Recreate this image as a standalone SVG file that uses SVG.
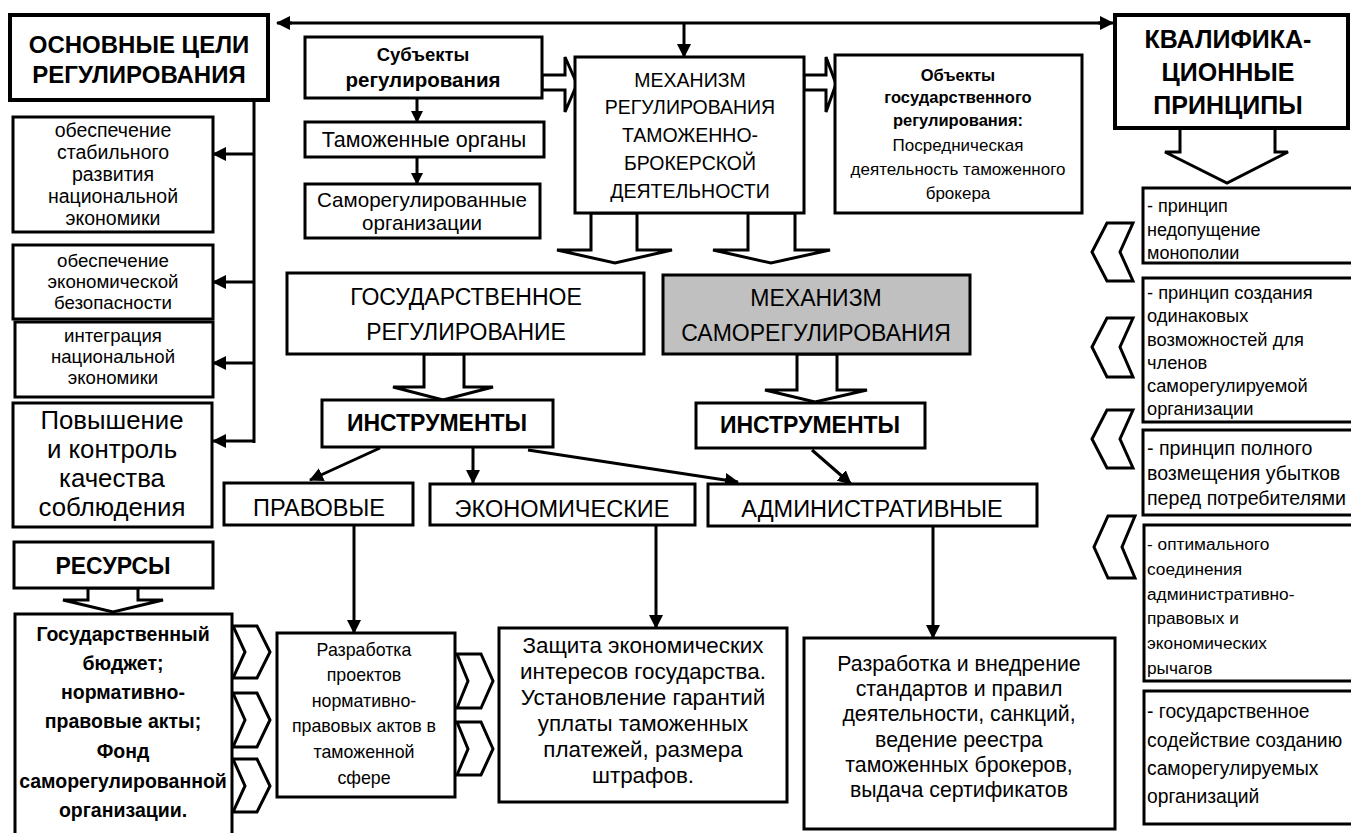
<svg xmlns="http://www.w3.org/2000/svg" width="1351" height="833" viewBox="0 0 1351 833">
<style>
.bx{fill:#fff;stroke:#000;stroke-width:3}
.bx4{fill:#fff;stroke:#000;stroke-width:4}
.gr{fill:#c0c0c0;stroke:#000;stroke-width:3}
.ba{fill:#fff;stroke:#000;stroke-width:3;stroke-linejoin:miter}
.ln{fill:none;stroke:#000;stroke-width:3}
text{font-family:"Liberation Sans","Noto Sans",sans-serif;fill:#000}
.c{text-anchor:middle}
.bd{font-weight:bold}
</style>
<defs>
<marker id="ah" markerUnits="userSpaceOnUse" markerWidth="14" markerHeight="14" refX="13" refY="7" orient="auto">
<path d="M0,0 L14,7 L0,14 z" fill="#000"/>
</marker>
<marker id="ahs" markerUnits="userSpaceOnUse" markerWidth="12" markerHeight="12" refX="11" refY="6" orient="auto">
<path d="M0,0 L12,6 L0,12 z" fill="#000"/>
</marker>
</defs>
<rect width="1351" height="833" fill="#fff"/>

<g id="connectors">
<line class="ln" x1="290" y1="23" x2="1100" y2="23"/>
<line class="ln" x1="292" y1="23" x2="277" y2="23" marker-end="url(#ah)"/>
<line class="ln" x1="1098" y1="23" x2="1113" y2="23" marker-end="url(#ah)"/>
<line class="ln" x1="684" y1="23" x2="684" y2="57" marker-end="url(#ah)"/>
<line class="ln" x1="254" y1="100" x2="254" y2="443"/>
<line class="ln" x1="254" y1="154" x2="213" y2="154" marker-end="url(#ah)"/>
<line class="ln" x1="254" y1="282" x2="213" y2="282" marker-end="url(#ah)"/>
<line class="ln" x1="254" y1="363" x2="213" y2="363" marker-end="url(#ah)"/>
<line class="ln" x1="254" y1="441" x2="213" y2="441" marker-end="url(#ah)"/>
<line class="ln" x1="417" y1="98" x2="417" y2="122" marker-end="url(#ahs)"/>
<line class="ln" x1="417" y1="157" x2="417" y2="184" marker-end="url(#ahs)"/>
<line class="ln" x1="380" y1="448" x2="310" y2="480" marker-end="url(#ah)"/>
<line class="ln" x1="473" y1="447" x2="473" y2="483" marker-end="url(#ah)"/>
<line class="ln" x1="528" y1="450" x2="738" y2="482" marker-end="url(#ah)"/>
<line class="ln" x1="812" y1="450" x2="851" y2="484" marker-end="url(#ah)"/>
<line class="ln" x1="354" y1="526" x2="354" y2="633" marker-end="url(#ah)"/>
<line class="ln" x1="656" y1="526" x2="656" y2="628" marker-end="url(#ah)"/>
<line class="ln" x1="933" y1="527" x2="933" y2="638" marker-end="url(#ah)"/>
<polygon class="ba" points="542,75 565,75 565,57 577,84 565,112 565,90 542,90"/>
<polygon class="ba" points="804,75 826,75 826,57 836,84 826,112 826,90 804,90"/>
<polygon class="ba" points="591,213 637,213 637,250 672,250 615,263 557,250 591,250"/>
<polygon class="ba" points="748,213 795,213 795,250 830,250 771,263 713,250 748,250"/>
<polygon class="ba" points="1180,128 1275,128 1275,152 1288,152 1227,183 1165,152 1180,152"/>
<polygon class="ba" points="424,354 464,354 464,387 493,387 443,400 393,387 424,387"/>
<polygon class="ba" points="797,354 837,354 837,390 867,390 815,402 765,390 797,390"/>
<polygon class="ba" points="88,588 138,588 138,600 163,600 113,612 63,600 88,600"/>
<polygon class="ba" points="1107,223 1133,223 1120,252 1133,281 1107,281 1092,252"/>
<polygon class="ba" points="1107,318 1133,318 1120,347 1133,377 1107,377 1092,347"/>
<polygon class="ba" points="1107,410 1133,410 1120,439 1133,468 1107,468 1092,439"/>
<polygon class="ba" points="1108,516 1135,516 1122,547 1135,578 1108,578 1094,547"/>
<polygon class="ba" points="233,626 257,626 270,652 257,678 233,678 245,652"/>
<polygon class="ba" points="233,693 257,693 270,720 257,747 233,747 245,720"/>
<polygon class="ba" points="233,759 257,759 270,786 257,812 233,812 245,786"/>
<polygon class="ba" points="457,654 481,654 493,681 481,708 457,708 468,681"/>
<polygon class="ba" points="457,722 481,722 493,749 481,775 457,775 468,749"/>
</g>

<g id="goals">
<rect class="bx4" x="10" y="15" width="258" height="85"/>
<text class="c bd" x="139" y="53" font-size="24">ОСНОВНЫЕ ЦЕЛИ</text>
<text class="c bd" x="139" y="83" font-size="24">РЕГУЛИРОВАНИЯ</text>
</g>
<g id="goal1">
<rect class="bx" x="13" y="117" width="200" height="115"/>
<text class="c" x="113" font-size="19.5"><tspan x="113" y="137">обеспечение</tspan><tspan x="113" y="159">стабильного</tspan><tspan x="113" y="181">развития</tspan><tspan x="113" y="203">национальной</tspan><tspan x="113" y="225">экономики</tspan></text>
</g>
<g id="goal2">
<rect class="bx" x="13" y="245" width="200" height="74"/>
<text class="c" x="113" font-size="18.7"><tspan x="113" y="267">обеспечение</tspan><tspan x="113" y="288">экономической</tspan><tspan x="113" y="309">безопасности</tspan></text>
</g>
<g id="goal3">
<rect class="bx" x="15" y="322" width="198" height="75"/>
<text class="c" x="113" font-size="18.6"><tspan x="113" y="342">интеграция</tspan><tspan x="113" y="363">национальной</tspan><tspan x="113" y="384">экономики</tspan></text>
</g>
<g id="goal4">
<rect class="bx" x="13" y="403" width="199" height="124"/>
<text class="c" x="112" font-size="25.8"><tspan x="112" y="429">Повышение</tspan><tspan x="112" y="458">и контроль</tspan><tspan x="112" y="487">качества</tspan><tspan x="112" y="516">соблюдения</tspan></text>
</g>

<g id="subjects">
<rect class="bx" x="305" y="37" width="237" height="61"/>
<text class="c bd" x="423" y="61" font-size="18.5">Субъекты</text>
<text class="c bd" x="423" y="87" font-size="20.5">регулирования</text>
</g>
<g id="customs">
<rect class="bx" x="305" y="122" width="239" height="35"/>
<text class="c" x="424" y="147" font-size="21.5">Таможенные органы</text>
</g>
<g id="sro">
<rect class="bx" x="305" y="184" width="235" height="54"/>
<text class="c" x="422" y="207" font-size="20.6">Саморегулированные</text>
<text class="c" x="422" y="230" font-size="20.6">организации</text>
</g>

<g id="mechanism">
<rect class="bx" x="575" y="57" width="229" height="156"/>
<text class="c" x="690" font-size="19.5"><tspan x="690" y="87">МЕХАНИЗМ</tspan><tspan x="690" y="114">РЕГУЛИРОВАНИЯ</tspan><tspan x="690" y="142">ТАМОЖЕННО-</tspan><tspan x="690" y="170">БРОКЕРСКОЙ</tspan><tspan x="690" y="198">ДЕЯТЕЛЬНОСТИ</tspan></text>
</g>

<g id="objects">
<rect class="bx" x="835" y="55" width="247" height="158"/>
<text class="c bd" x="958" font-size="16.5"><tspan x="958" y="81">Объекты</tspan><tspan x="958" y="103">государственного</tspan><tspan x="958" y="126">регулирования:</tspan></text>
<text class="c" x="958" font-size="17"><tspan x="958" y="151">Посредническая</tspan><tspan x="958" y="175">деятельность таможенного</tspan><tspan x="958" y="199">брокера</tspan></text>
</g>

<g id="qual">
<rect class="bx4" x="1115" y="15" width="233" height="113"/>
<text class="c bd" x="1228" font-size="25"><tspan x="1228" y="48">КВАЛИФИКА-</tspan><tspan x="1228" y="81">ЦИОННЫЕ</tspan><tspan x="1228" y="114">ПРИНЦИПЫ</tspan></text>
</g>

<g id="p1">
<rect class="bx" x="1143" y="188" width="215" height="75"/>
<text x="1147" font-size="18"><tspan x="1147" y="212">- принцип</tspan><tspan x="1147" y="236">недопущение</tspan><tspan x="1147" y="259">монополии</tspan></text>
</g>
<g id="p2">
<rect class="bx" x="1143" y="278" width="215" height="144"/>
<text x="1147" font-size="18.3"><tspan x="1147" y="299">- принцип создания</tspan><tspan x="1147" y="322">одинаковых</tspan><tspan x="1147" y="346">возможностей для</tspan><tspan x="1147" y="369">членов</tspan><tspan x="1147" y="392">саморегулируемой</tspan><tspan x="1147" y="415">организации</tspan></text>
</g>
<g id="p3">
<rect class="bx" x="1143" y="430" width="215" height="85"/>
<text x="1147" font-size="19.6"><tspan x="1147" y="455">- принцип полного</tspan><tspan x="1147" y="480">возмещения убытков</tspan><tspan x="1147" y="505">перед потребителями</tspan></text>
</g>
<g id="p4">
<rect class="bx" x="1144" y="525" width="214" height="156"/>
<text x="1147" font-size="17.3"><tspan x="1147" y="550">- оптимального</tspan><tspan x="1147" y="575">соединения</tspan><tspan x="1147" y="600">административно-</tspan><tspan x="1147" y="624">правовых и</tspan><tspan x="1147" y="649">экономических</tspan><tspan x="1147" y="674">рычагов</tspan></text>
</g>
<g id="p5">
<rect class="bx" x="1144" y="691" width="214" height="133"/>
<text x="1147" font-size="19.3"><tspan x="1147" y="718">- государственное</tspan><tspan x="1147" y="747">содействие созданию</tspan><tspan x="1147" y="775">саморегулируемых</tspan><tspan x="1147" y="803">организаций</tspan></text>
</g>

<g id="state">
<rect class="bx" x="287" y="273" width="357" height="81"/>
<text class="c" x="466" y="305" font-size="23">ГОСУДАРСТВЕННОЕ</text>
<text class="c" x="466" y="340" font-size="23">РЕГУЛИРОВАНИЕ</text>
</g>
<g id="selfreg">
<rect class="gr" x="663" y="275" width="307" height="79"/>
<text class="c" x="816" y="306" font-size="23">МЕХАНИЗМ</text>
<text class="c" x="816" y="341" font-size="23">САМОРЕГУЛИРОВАНИЯ</text>
</g>

<g id="tools1">
<rect class="bx" x="322" y="400" width="231" height="47"/>
<text class="c bd" x="437" y="431" font-size="23">ИНСТРУМЕНТЫ</text>
</g>
<g id="tools2">
<rect class="bx" x="696" y="403" width="229" height="45"/>
<text class="c bd" x="810" y="433" font-size="23">ИНСТРУМЕНТЫ</text>
</g>

<g id="legal">
<rect class="bx" x="224" y="483" width="189" height="42"/>
<text class="c" x="319" y="516" font-size="23.5">ПРАВОВЫЕ</text>
</g>
<g id="economic">
<rect class="bx" x="430" y="484" width="265" height="41"/>
<text class="c" x="562" y="517" font-size="23.5">ЭКОНОМИЧЕСКИЕ</text>
</g>
<g id="admin">
<rect class="bx" x="708" y="484" width="329" height="42"/>
<text class="c" x="872" y="517" font-size="23.5">АДМИНИСТРАТИВНЫЕ</text>
</g>

<g id="resources">
<rect class="bx" x="14" y="542" width="199" height="46"/>
<text class="c bd" x="113" y="574" font-size="23">РЕСУРСЫ</text>
</g>
<g id="budget">
<rect class="bx" x="15" y="614" width="217" height="230"/>
<text class="c bd" x="123" font-size="19.5"><tspan x="123" y="641">Государственный</tspan><tspan x="123" y="670">бюджет;</tspan><tspan x="123" y="699">нормативно-</tspan><tspan x="123" y="728">правовые акты;</tspan><tspan x="123" y="758">Фонд</tspan><tspan x="123" y="788">саморегулированной</tspan><tspan x="123" y="817">организации.</tspan></text>
</g>

<g id="drafting">
<rect class="bx" x="277" y="633" width="178" height="164"/>
<text class="c" x="364" font-size="17.8"><tspan x="364" y="656">Разработка</tspan><tspan x="364" y="681">проектов</tspan><tspan x="364" y="707">нормативно-</tspan><tspan x="364" y="732">правовых актов в</tspan><tspan x="364" y="758">таможенной</tspan><tspan x="364" y="784">сфере</tspan></text>
</g>
<g id="protection">
<rect class="bx" x="499" y="628" width="288" height="174"/>
<text class="c" x="643" font-size="22.4"><tspan x="643" y="653">Защита экономических</tspan><tspan x="643" y="679">интересов государства.</tspan><tspan x="643" y="705">Установление гарантий</tspan><tspan x="643" y="731">уплаты таможенных</tspan><tspan x="643" y="757">платежей, размера</tspan><tspan x="643" y="783">штрафов.</tspan></text>
</g>
<g id="standards">
<rect class="bx" x="804" y="638" width="311" height="191"/>
<text class="c" x="959" font-size="21.3"><tspan x="959" y="671">Разработка и внедрение</tspan><tspan x="959" y="696">стандартов и правил</tspan><tspan x="959" y="721">деятельности, санкций,</tspan><tspan x="959" y="747">ведение реестра</tspan><tspan x="959" y="772">таможенных брокеров,</tspan><tspan x="959" y="797">выдача сертификатов</tspan></text>
</g>
</svg>
